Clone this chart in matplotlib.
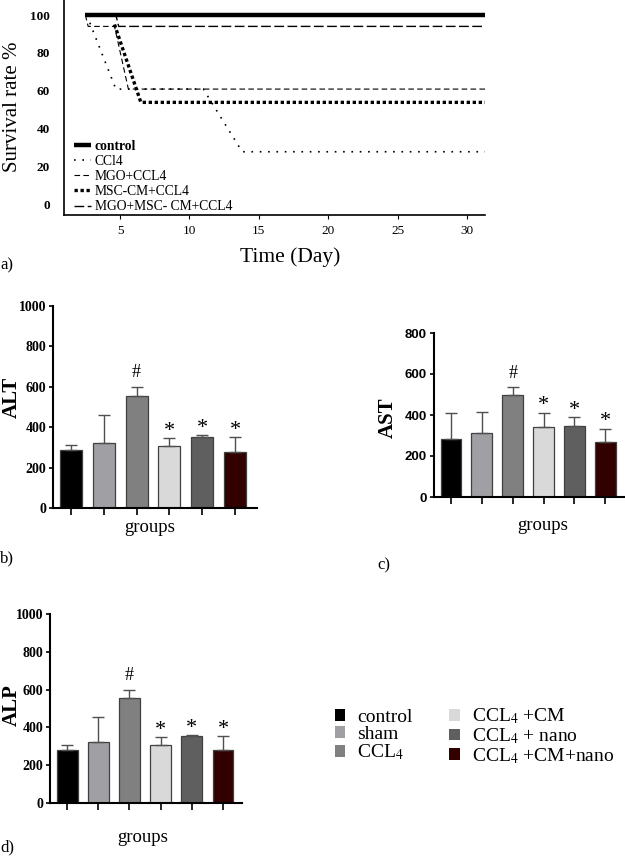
import matplotlib
matplotlib.use("Agg")
import matplotlib.pyplot as plt
from matplotlib.patches import Patch

plt.rcParams['font.family'] = ['Liberation Serif', 'DejaVu Serif']
plt.rcParams['mathtext.fontset'] = 'stix'

W, H = 625.0, 865.0

# ---- survival data (a) ----
control_day = [2.5, 32]
control_surv = [100, 100]
ccl4_day = [2.6, 4.7, 11.0, 13.8, 32]
ccl4_surv = [100, 61, 61, 28, 28]
mgo_day = [2.5, 2.7, 4.6, 5.6, 32]
mgo_surv = [100, 94, 94, 61, 61]
msc_day = [4.6, 6.5, 32]
msc_surv = [95, 54, 54]
combo_day = [2.5, 4.7, 4.9, 32]
combo_surv = [100, 100, 94, 94]

# ---- enzyme data (b, c, d) ----
groups = ['control', 'sham', 'CCL$_4$', 'CCL$_4$ +CM', 'CCL$_4$ + nano', 'CCL$_4$ +CM+nano']
bar_colors = ['#000000', '#a0a0a4', '#808080', '#d9d9d9', '#5f5f5f', '#330000']
alt_mean = [285, 322, 556, 307, 350, 279]
alt_err = [25, 137, 41, 41, 13, 72]
ast_mean = [282, 314, 499, 343, 347, 266]
ast_err = [129, 99, 37, 67, 42, 68]
alp_mean = [282, 321, 557, 305, 353, 279]
alp_err = [23, 136, 43, 42, 7, 74]
alt_marks = ['', '', '#', '*', '*', '*']
ast_marks = ['', '', '#', '*', '*', '*']
alp_marks = ['', '', '#', '*', '*', '*']


def px_axes(fig, l, r, t, b):
    return fig.add_axes([l / W, 1 - b / H, (r - l) / W, (b - t) / H])


def ftext(fig, x, y, s, **kw):
    fig.text(x / W, 1 - y / H, s, **kw)


fig = plt.figure(figsize=(W / 100, H / 100), dpi=100)

# ---------- a) survival ----------
ax = px_axes(fig, 64, 485, 0, 215)
ax.plot(control_day, control_surv, color='black', lw=3.2, solid_capstyle='butt', label='control')
ax.plot(ccl4_day, ccl4_surv, color='black', lw=1.2, ls=(0, (1, 4)), label='CCl4')
ax.plot(mgo_day, mgo_surv, color='black', lw=0.8, ls=(0, (5, 3)), label='MGO+CCL4')
ax.plot(msc_day, msc_surv, color='black', lw=2.4, ls=(0, (1, 0.8)), label='MSC-CM+CCL4')
ax.plot(combo_day, combo_surv, color='black', lw=1.0, ls=(0, (7, 2.5)), label='MGO+MSC- CM+CCL4')
ax.set_xlim(0.96, 31.3)
ax.set_ylim(-5.3, 107.9)
ax.set_xticks([5, 10, 15, 20, 25, 30])
ax.set_yticks([0, 20, 40, 60, 80, 100])
for s in ['top', 'right']:
    ax.spines[s].set_visible(False)
ax.spines['left'].set_linewidth(1.2)
ax.spines['bottom'].set_linewidth(1.2)
ax.tick_params(axis='y', length=0, pad=10, labelsize=9.5)
ax.tick_params(axis='x', length=3, pad=4, labelsize=9.5)
for t in ax.get_yticklabels():
    t.set_fontweight('bold')
leg = ax.legend(loc='lower left', bbox_to_anchor=(0.005, -0.03), frameon=False,
                fontsize=9.8, handlelength=1.2, handletextpad=0.3, labelspacing=0.15,
                borderaxespad=0.2)
leg.get_texts()[0].set_fontweight('bold')
ftext(fig, 13, 107, 'Survival rate %', rotation=90, fontsize=15, ha='center', va='center')
ftext(fig, 290, 257, 'Time (Day)', fontsize=15.5, ha='center', va='center')
ftext(fig, 0, 265, 'a)', fontsize=12, ha='left', va='center')


def bar_panel(box, means, errs, marks, top, ylab, tickfont, ticksize, lab_xy, grp_xy, tag, tag_xy, right_pad):
    l, r, t, b = box
    bx = px_axes(fig, l, r, t, b)
    xs = list(range(len(means)))
    bx.bar(xs, means, width=0.67, color=bar_colors, edgecolor='#404040', linewidth=0.9,
           yerr=[[0] * len(errs), errs], error_kw=dict(ecolor='#505050', elinewidth=1.0,
                                                         capsize=4, capthick=1.0))
    for x, m, e, s in zip(xs, means, errs, marks):
        if s == '#':
            bx.text(x, m + e + top * 0.03, s, ha='center', va='bottom', fontsize=13)
        elif s:
            bx.text(x, m + e - top * 0.015, s, ha='center', va='bottom', fontsize=16)
    bx.set_xlim(-0.55, len(means) - 1 + right_pad)
    bx.set_ylim(0, top)
    bx.set_yticks(list(range(0, top + 1, 200)))
    bx.set_xticks(xs)
    bx.set_xticklabels([])
    for s in ['top', 'right']:
        bx.spines[s].set_visible(False)
    bx.spines['left'].set_linewidth(1.5)
    bx.spines['bottom'].set_linewidth(1.5)
    bx.tick_params(axis='y', length=3, width=1.2, pad=2)
    bx.tick_params(axis='x', length=5, width=1.2)
    for tl in bx.get_yticklabels():
        tl.set_fontweight('bold')
        tl.set_fontfamily(tickfont)
        tl.set_fontsize(ticksize)
    ftext(fig, lab_xy[0], lab_xy[1], ylab, rotation=90, fontsize=15, fontweight='bold',
          ha='center', va='center')
    ftext(fig, grp_xy[0], grp_xy[1], 'groups', fontsize=13.5, ha='center', va='center')
    ftext(fig, tag_xy[0], tag_xy[1], tag, fontsize=12, ha='left', va='center')
    return bx


bar_panel((53, 257, 306, 508), alt_mean, alt_err, alt_marks, 1000, 'ALT',
          ['Liberation Serif'], 10, (12, 397), (150, 528), 'b)', (0, 558), 0.67)
bar_panel((434, 625, 333, 497), ast_mean, ast_err, ast_marks, 800, 'AST',
          ['Liberation Sans'], 9.5, (388, 418), (543, 525), 'c)', (377, 565), 0.64)
bar_panel((50, 242, 614, 803), alp_mean, alp_err, alp_marks, 1000, 'ALP',
          ['Liberation Serif'], 10, (12, 705), (143, 838), 'd)', (0, 847), 0.61)

handles = [Patch(facecolor=c, edgecolor='none') for c in bar_colors]
fig.legend(handles, groups, loc='upper left', bbox_to_anchor=(327 / W, 1 - 699 / H),
           ncol=2, frameon=False, fontsize=14, handlelength=0.55, handleheight=0.55,
           handletextpad=0.6, labelspacing=0.0, columnspacing=1.9, borderaxespad=0)

fig.savefig('out.png', dpi=100)
